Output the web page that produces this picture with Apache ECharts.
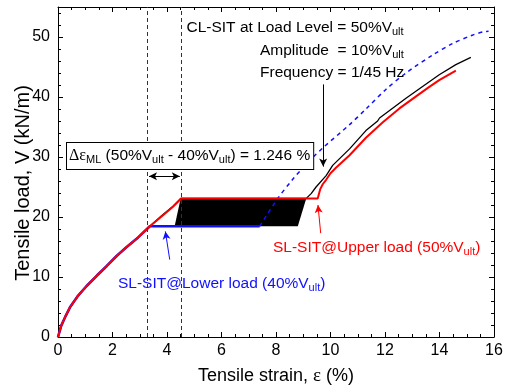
<!DOCTYPE html>
<html>
<head>
<meta charset="utf-8">
<script src="https://cdn.jsdelivr.net/npm/echarts@6/dist/echarts.min.js"></script>
<style>
  html, body { margin: 0; padding: 0; background: #fff; }
  #chart { width: 509px; height: 391px; }
</style>
</head>
<body>
<div id="chart"></div>
<script>
// Tensile strain (%) and tensile load (kN/m)

// shared initial loading branch (all three tests)
const initialStrain = [0, 0.12, 0.26, 0.44, 0.74, 1.05, 1.42, 1.78, 2.15, 2.52, 2.94, 3.37];
const initialLoad   = [0, 1.9, 3.3, 4.95, 6.9, 8.5, 10.2, 11.8, 13.5, 15.0, 16.6, 18.45];

// SL-SIT at the lower load (40% Vult): hold, then monotonic loading
const lowerHoldStrain = [3.37, 7.4];
const lowerHoldLoad   = [18.45, 18.45];
const lowerRiseStrain = [7.4, 8.05, 8.6, 9.15, 9.74, 10.7, 11.3, 12.03, 12.77, 13.75, 14.48, 15.2, 15.64, 15.8];
const lowerRiseLoad   = [18.45, 23.0, 26.2, 29.0, 31.6, 35.4, 38.0, 41.25, 44.0, 47.0, 48.9, 50.3, 50.9, 50.95];

// SL-SIT at the upper load (50% Vult)
const upperStrain = [3.37, 3.8, 4.22, 4.53, 9.53, 9.62, 9.72, 9.84, 10.0, 10.2, 10.7, 11.3, 11.92, 12.53, 13.14, 13.6, 13.99, 14.6];
const upperLoad   = [18.45, 20.1, 21.7, 23.1, 23.1, 24.6, 25.5, 26.2, 27.3, 28.2, 30.3, 33.2, 35.8, 38.1, 40.1, 41.6, 42.8, 44.4];

// CL-SIT at 50% Vult: loading branch after the cyclic stage
const cyclicStrain = [3.37, 3.8, 4.22, 4.5, 9.11, 9.29, 9.47, 9.84, 10.08, 10.7, 11.3, 11.73, 11.8, 12.77, 13.99, 14.6, 15.15];
const cyclicLoad   = [18.45, 20.2, 21.8, 23.1, 23.1, 23.9, 25.0, 26.9, 28.6, 31.35, 34.4, 36.0, 36.5, 39.8, 43.7, 45.4, 46.6];

// envelope of the cyclic stage between lower and upper load
const bandStrain = [4.28, 4.5, 9.11, 8.8];
const bandLoad   = [18.45, 23.1, 23.1, 18.45];

// limits of the creep strain difference
const markStrainA = 3.28;
const markStrainB = 4.526;

// axis ticks
const xTicks = [0, 2, 4, 6, 8, 10, 12, 14, 16];
const yTicks = [0, 10, 20, 30, 40, 50];

const pairs = (xs, ys) => xs.map((x, i) => [x, ys[i]]);

const FONT = '"Liberation Sans", Arial, sans-serif';
const SERIF = '"Liberation Serif", "Times New Roman", serif';

function richFor(color) {
  return {
    m: { fontSize: 15.5, fontFamily: FONT, lineHeight: 18, fill: color },
    s: { fontSize: 11, fontFamily: FONT, lineHeight: 10, verticalAlign: 'bottom', fill: color },
    g: { fontSize: 16, fontFamily: SERIF, lineHeight: 18, fill: color }
  };
}

function xAxisCfg(position, labels) {
  return {
    type: 'value', position: position, min: xTicks[0], max: xTicks[xTicks.length - 1], interval: 2,
    axisLine: { show: true, onZero: false, lineStyle: { color: '#000', width: 1 } },
    axisTick: { show: true, inside: true, length: 5, lineStyle: { color: '#000' } },
    minorTick: { show: true, splitNumber: 4, length: 3, lineStyle: { color: '#000' } },
    splitLine: { show: false },
    axisLabel: { show: labels, color: '#000', fontSize: 16, fontFamily: FONT, margin: 6 },
    name: labels ? 'Tensile strain, {e|ε} (%)' : '',
    nameLocation: 'middle',
    nameGap: 30,
    nameTextStyle: {
      color: '#000', fontSize: 18, fontFamily: FONT,
      rich: { e: { fontSize: 19, fontFamily: SERIF, color: '#000' } }
    }
  };
}

function yAxisCfg(position, interval, tickLen, labels, line) {
  return {
    type: 'value', position: position, min: yTicks[0], max: 55, interval: interval,
    axisLine: { show: line, onZero: false, lineStyle: { color: '#000', width: 1 } },
    axisTick: { show: true, inside: true, length: tickLen, lineStyle: { color: '#000' } },
    splitLine: { show: false },
    axisLabel: { show: labels, showMaxLabel: false, color: '#000', fontSize: 16, fontFamily: FONT, margin: 8 }
  };
}

const chart = echarts.init(document.getElementById('chart'), null, { renderer: 'canvas' });

const arrowLine = (from, to, color, both) => [
  { coord: from, symbol: both ? 'arrow' : 'none', symbolSize: [6, 8], lineStyle: { color: color, width: 1, type: 'solid' } },
  { coord: to, symbol: 'arrow', symbolSize: [6, 8] }
];

const option = {
  animation: false,
  backgroundColor: '#fff',
  grid: { left: 58, right: 15, top: 7, bottom: 51, containLabel: false },
  xAxis: [xAxisCfg('bottom', true), xAxisCfg('top', false)],
  yAxis: [
    yAxisCfg('left', 10, 5, true, true),
    yAxisCfg('left', 2, 3, false, false),
    yAxisCfg('right', 10, 5, false, true),
    yAxisCfg('right', 2, 3, false, false)
  ],
  series: [
    {
      // cyclic stage envelope
      type: 'custom',
      xAxisIndex: 0, yAxisIndex: 0,
      silent: true,
      data: [0],
      renderItem: function (params, api) {
        const pts = bandStrain.map((x, i) => api.coord([x, bandLoad[i]]));
        return { type: 'polygon', shape: { points: pts }, style: { fill: '#000' } };
      },
      z: 1
    },
    {
      name: 'CL-SIT',
      type: 'line',
      data: pairs(initialStrain, initialLoad).concat(pairs(cyclicStrain, cyclicLoad).slice(1)),
      showSymbol: false,
      lineStyle: { color: '#000', width: 1.3 },
      z: 2,
      markLine: {
        silent: true,
        animation: false,
        label: { show: false },
        emphasis: { disabled: true },
        symbol: ['none', 'none'],
        data: [
          [
            { xAxis: markStrainA, yAxis: 0, lineStyle: { color: '#333', width: 1, type: [4, 3] } },
            { xAxis: markStrainA, yAxis: 55 }
          ],
          [
            { xAxis: markStrainB, yAxis: 0, lineStyle: { color: '#333', width: 1, type: [4, 3] } },
            { xAxis: markStrainB, yAxis: 55 }
          ],
          arrowLine([3.34, 26.8], [4.47, 26.8], '#000', true),
          arrowLine([9.73, 42.1], [9.73, 28.4], '#000', false)
        ]
      }
    },
    {
      name: 'SL-SIT lower',
      type: 'line',
      data: pairs(initialStrain, initialLoad).concat(pairs(lowerHoldStrain, lowerHoldLoad).slice(1)),
      showSymbol: false,
      lineStyle: { color: '#1010ff', width: 2.6 },
      z: 3,
      markLine: {
        silent: true, animation: false,
        label: { show: false },
        emphasis: { disabled: true },
        data: [arrowLine([4.10, 12.9], [3.94, 17.6], '#1010ff', false)]
      }
    },
    {
      name: 'SL-SIT lower rise',
      type: 'line',
      data: pairs(lowerRiseStrain, lowerRiseLoad),
      showSymbol: false,
      smooth: 0.3,
      lineStyle: { color: '#1010ff', width: 1.5, type: [4, 4] },
      z: 3
    },
    {
      name: 'SL-SIT upper',
      type: 'line',
      data: pairs(initialStrain, initialLoad).concat(pairs(upperStrain, upperLoad).slice(1)),
      showSymbol: false,
      lineStyle: { color: '#ff0000', width: 2 },
      z: 4,
      markLine: {
        silent: true, animation: false,
        label: { show: false },
        emphasis: { disabled: true },
        data: [arrowLine([9.64, 17.3], [9.54, 22.0], '#ff0000', false)]
      }
    }
  ],
  graphic: [
    {
      type: 'text', x: 23, y: 183, rotation: Math.PI / 2, z: 10,
      style: { text: 'Tensile load, V (kN/m)', fill: '#000', fontSize: 20, fontFamily: FONT, align: 'center', verticalAlign: 'middle' }
    },
    {
      type: 'text', x: 186.5, y: 28, z: 10,
      style: { text: '{m|CL-SIT at Load Level = 50%V}{s|ult}', rich: richFor('#000'), align: 'left', verticalAlign: 'middle' }
    },
    {
      type: 'text', x: 260, y: 51, z: 10,
      style: { text: '{m|Amplitude  = 10%V}{s|ult}', rich: richFor('#000'), align: 'left', verticalAlign: 'middle' }
    },
    {
      type: 'text', x: 260, y: 73, z: 10,
      style: { text: '{m|Frequency = 1/45 Hz}', rich: richFor('#000'), align: 'left', verticalAlign: 'middle' }
    },
    {
      type: 'text', x: 67, y: 143, z: 10,
      style: {
        text: '{g|Δε}{s|ML}{m| (50%V}{s|ult}{m| - 40%V}{s|ult}{m|) = 1.246 %}',
        rich: richFor('#000'), align: 'left', verticalAlign: 'top',
        backgroundColor: '#fff', borderColor: '#000', borderWidth: 1, padding: [4, 3, 4, 2]
      }
    },
    {
      type: 'text', x: 273, y: 248, z: 10,
      style: { text: '{m|SL-SIT@Upper load (50%V}{s|ult}{m|)}', rich: richFor('#ff0000'), align: 'left', verticalAlign: 'middle' }
    },
    {
      type: 'text', x: 118, y: 284, z: 10,
      style: { text: '{m|SL-SIT@Lower load (40%V}{s|ult}{m|)}', rich: richFor('#1010ff'), align: 'left', verticalAlign: 'middle' }
    }
  ]
};

chart.setOption(option);
</script>
</body>
</html>
